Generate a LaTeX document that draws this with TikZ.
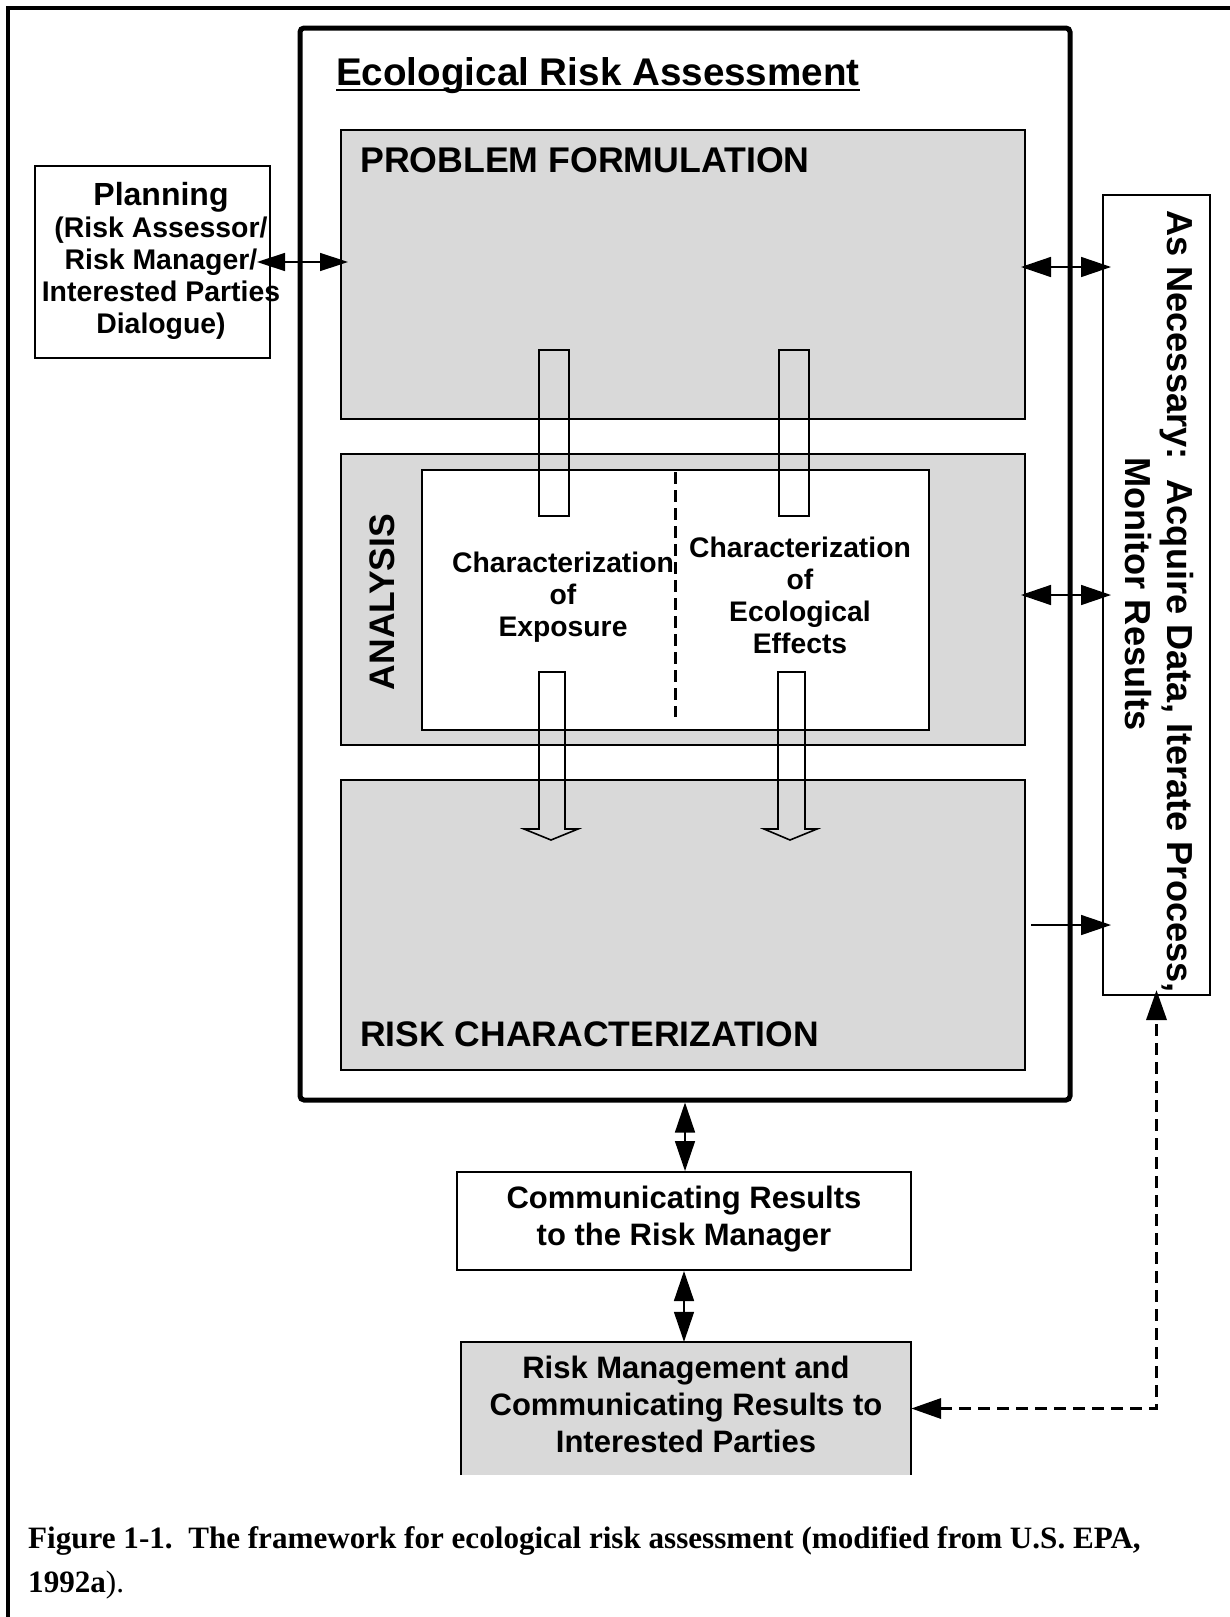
\documentclass[tikz,border=0pt]{standalone}
\usepackage{fontspec}
\setmainfont{Liberation Serif}
\setsansfont{Liberation Sans}
\usetikzlibrary{arrows.meta,fit}
\definecolor{boxgray}{RGB}{217,217,217}
\newcommand\myfs[2]{\fontsize{#1}{#2}\selectfont}
\frenchspacing
\begin{document}
\begin{tikzpicture}[x=1pt,y=-1pt,
  frame/.style={draw, line width=2pt, inner sep=0pt},
  graybox/.style={frame, fill=boxgray},
  lab/.style={inner sep=0pt},
  thinarrow/.style={line width=1.5pt},
  blockarrow/.style={draw, line width=1.6pt, line join=miter},
  >={Triangle[length=30pt,width=20pt]}
]
\useasboundingbox (0,0) rectangle (1230,1617);
\fill[white] (0,0) rectangle (1230,1617);

% outer frame (top and left only visible)
\draw[line width=3.5pt] (8,1617) -- (8,8) -- (1230,8);

% main boxes
\node[draw, line width=5pt, rounded corners=4pt, inner sep=0pt, fit={(300,28) (1070,1100)}] (era) {};
\node[graybox, fit={(341,130) (1025,419)}] (pf) {};
\node[graybox, fit={(341,454) (1025,745)}] (an) {};
\node[frame, fill=white, fit={(422,470) (929,730)}] (inner) {};
\node[graybox, fit={(341,780) (1025,1070)}] (rc) {};

\node[frame, fill=white, fit={(35,166) (270,358)}] (plan) {};
\node[frame, fill=white, fit={(1103,195) (1210,995)}] (asn) {};
\node[frame, fill=white, fit={(457,1172) (911,1270)}] (comm) {};
\node[inner sep=0pt, fill=boxgray, fit={(461,1342) (911,1475)}] (rm) {};
\draw[line width=2pt] (rm.south west) -- (rm.north west) -- (rm.north east) -- (rm.south east);

% dashed divider in analysis
\draw[line width=3pt, dash pattern=on 12pt off 6pt] (675,472) -- (675,717);

% hollow bars from problem formulation into analysis
\draw[blockarrow] (539,350) rectangle (569,516);
\draw[blockarrow] (779,350) rectangle (809,516);

% hollow block arrows from analysis into risk characterization
\draw[blockarrow] (539,672) -- (539,829) -- (524,829) -- (551,840) -- (578,829) -- (565,829) -- (565,672) -- cycle;
\draw[blockarrow] (778,672) -- (778,829) -- (764,829) -- (790,840) -- (817,829) -- (805,829) -- (805,672) -- cycle;

% texts
\node[lab, anchor=base west, font=\sffamily\bfseries\myfs{38.6}{44}] (title) at (336,85) {Ecological Risk Assessment};
\draw[line width=2pt] ([yshift=-5pt]title.base west) -- ([yshift=-5pt]title.base east);

\node[lab, anchor=base west, font=\sffamily\bfseries\myfs{35.7}{40}] (pflab) at (360,172) {PROBLEM FORMULATION};
\node[lab, anchor=base west, font=\sffamily\bfseries\myfs{35.5}{40}] (rclab) at (360,1046) {RISK CHARACTERIZATION};
\node[lab, rotate=90, font=\sffamily\bfseries\myfs{35.5}{40}] (anlab) at (382,602) {ANALYSIS};

\node[lab, anchor=north, align=center, font=\sffamily\bfseries\myfs{28.3}{32}] (expo) at (563,552) {Characterization\\of\\Exposure};
\node[lab, anchor=north, align=center, font=\sffamily\bfseries\myfs{28.3}{32}] (effe) at (800,537) {Characterization\\of\\Ecological\\Effects};

\node[lab, anchor=north, align=center, font=\sffamily\bfseries\myfs{28.4}{32}] (plantext) at (161,182) {{\myfs{32}{32}Planning}\\(Risk Assessor/\\Risk Manager/\\Interested Parties\\Dialogue)};

\node[lab, rotate=-90, align=center, font=\sffamily\bfseries\myfs{36.2}{42}] (asntext) at (1159,594) {\hspace*{15pt}As Necessary:\ \ Acquire Data, Iterate Process,\\Monitor Results};

\node[lab, anchor=north, align=center, font=\sffamily\bfseries\myfs{31}{37}] (commtext) at (684,1186) {Communicating Results\\to the Risk Manager};
\node[lab, anchor=north, align=center, font=\sffamily\bfseries\myfs{31}{37}] (rmtext) at (686,1356) {Risk Management and\\Communicating Results to\\Interested Parties};

% caption
\node[lab, anchor=base west, font=\myfs{31.1}{44}] (cap1) at (28,1548) {\textbf{Figure 1-1.\ \ The framework for ecological risk assessment (modified from U.S. EPA,}};
\node[lab, anchor=base west, font=\myfs{31.1}{44}] (cap2) at (28,1592) {\textbf{1992a}).};

% connectors
\coordinate (p0) at ([xshift=-14pt]plan.east);
\draw[thinarrow, <->, >={Triangle[length=28pt,width=18pt]}]
  (p0) -- ([xshift=8pt]pf.west |- p0);
\coordinate (a1) at ([shift={(-5,-7.5)}]pf.east);
\draw[thinarrow, <->] (a1) -- ([xshift=9pt]asn.west |- a1);
\coordinate (a2) at ([xshift=-5pt]an.east |- asn.west);
\draw[thinarrow, <->] (a2) -- ([xshift=9pt]asn.west);
\coordinate (a3) at ([xshift=5pt]rc.east);
\draw[thinarrow, ->] (a3) -- ([xshift=9pt]asn.west |- a3);

\draw[thinarrow, <->] (era.south) -- (era.south |- comm.north);
\draw[thinarrow, <->] (comm.south) -- (comm.south |- rm.north);

\draw[line width=3.5pt, dash pattern=on 12pt off 7pt, <->] (rm.east) -| ([yshift=6pt]asn.south);
\end{tikzpicture}
\end{document}
